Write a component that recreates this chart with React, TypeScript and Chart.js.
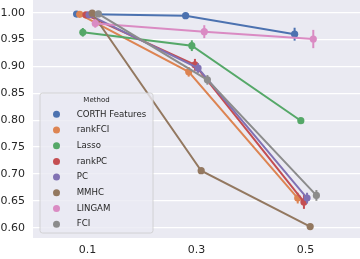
import React, { useEffect, useRef } from "react";
import { Chart, registerables } from "chart.js";

Chart.register(...registerables);

// ---- data ----
const categories = ["0.1", "0.3", "0.5"];
const methods = ["CORTH Features", "rankFCI", "Lasso", "rankPC", "PC", "MMHC", "LINGAM", "FCI"];
const colors = ["#4C72B0", "#DD8452", "#55A868", "#C44E52", "#8172B3", "#937860", "#DA8BC3", "#8C8C8C"];

const corthFeatures = [0.9975, 0.9944, 0.96];
const rankFCI = [0.997, 0.89, 0.655];
const lasso = [0.9635, 0.9386, 0.799];
const rankPC = [0.996, 0.903, 0.648];
const pc = [0.996, 0.897, 0.655];
const mmhc = [0.999, 0.706, 0.602];
const lingam = [0.98, 0.9647, 0.951];
const fci = [0.9976, 0.875, 0.66];

const corthFeaturesErr = [0.002, 0.002, 0.012];
const rankFCIErr = [0.003, 0.009, 0.01];
const lassoErr = [0.008, 0.01, 0.003];
const rankPCErr = [0.003, 0.011, 0.013];
const pcErr = [0.003, 0.009, 0.01];
const mmhcErr = [0.002, 0.003, 0.003];
const lingamErr = [0.008, 0.012, 0.017];
const fciErr = [0.003, 0.009, 0.01];

const yTicks = [0.6, 0.65, 0.7, 0.75, 0.8, 0.85, 0.9, 0.95, 1.0];
const legendTitle = "Method";

const seriesValues = [corthFeatures, rankFCI, lasso, rankPC, pc, mmhc, lingam, fci];
const seriesErrors = [corthFeaturesErr, rankFCIErr, lassoErr, rankPCErr, pcErr, mmhcErr, lingamErr, fciErr];

const FONT = "'DejaVu Sans', sans-serif";
const TEXT = "#262626";
const DODGE = 0.2;

const bgPlugin = {
  id: "bgPlugin",
  beforeDraw(chart: any) {
    const { ctx, chartArea } = chart;
    ctx.save();
    ctx.fillStyle = "#EAEAF2";
    ctx.fillRect(chartArea.left, chartArea.top, chartArea.right - chartArea.left, chartArea.bottom - chartArea.top);
    ctx.restore();
  },
};

const errorBarPlugin = {
  id: "errorBarPlugin",
  afterDatasetDraw(chart: any, args: any) {
    const i = args.index;
    const meta = args.meta;
    const ys = chart.scales.y;
    const errs = seriesErrors[i];
    const vals = seriesValues[i];
    const { ctx } = chart;
    ctx.save();
    ctx.strokeStyle = colors[i];
    ctx.lineWidth = 2;
    meta.data.forEach((pt: any, j: number) => {
      const lo = ys.getPixelForValue(vals[j] - errs[j]);
      const hi = ys.getPixelForValue(vals[j] + errs[j]);
      ctx.beginPath();
      ctx.moveTo(pt.x, lo);
      ctx.lineTo(pt.x, hi);
      ctx.stroke();
    });
    ctx.restore();
  },
};

const legendPlugin = {
  id: "legendPlugin",
  afterDatasetsDraw(chart: any) {
    const { ctx, chartArea } = chart;
    const bx = chartArea.left + 7;
    const by = chartArea.top + 93;
    const bw = 113;
    const bh = 140;
    ctx.save();
    ctx.beginPath();
    ctx.roundRect(bx, by, bw, bh, 2.5);
    ctx.fillStyle = "rgba(234,234,242,0.8)";
    ctx.fill();
    ctx.strokeStyle = "#CCCCCC";
    ctx.lineWidth = 0.8;
    ctx.stroke();

    ctx.fillStyle = TEXT;
    ctx.textBaseline = "middle";
    ctx.textAlign = "center";
    ctx.font = `7px ${FONT}`;
    ctx.fillText(legendTitle, bx + bw / 2, by + 7);

    ctx.textAlign = "left";
    ctx.font = `8.6px ${FONT}`;
    methods.forEach((m, i) => {
      const y = by + 21.3 + i * 15.7;
      ctx.beginPath();
      ctx.arc(bx + 16.5, y, 3.5, 0, Math.PI * 2);
      ctx.fillStyle = colors[i];
      ctx.fill();
      ctx.fillStyle = TEXT;
      ctx.fillText(m, bx + 36.7, y);
    });
    ctx.restore();
  },
};

const zeroPad = (s: any) => {
  s.paddingTop = 0;
  s.paddingBottom = 0;
  s.paddingLeft = 0;
  s.paddingRight = 0;
};

export default function App() {
  const ref = useRef<HTMLCanvasElement>(null);

  useEffect(() => {
    const n = methods.length;
    const datasets = methods.map((m, i) => {
      const off = -DODGE / 2 + (DODGE * i) / (n - 1);
      return {
        label: m,
        data: seriesValues[i].map((v, j) => ({ x: j + off, y: v })),
        borderColor: colors[i],
        backgroundColor: colors[i],
        pointBackgroundColor: colors[i],
        pointBorderColor: colors[i],
        pointBorderWidth: 0,
        pointRadius: 3.6,
        borderWidth: 2,
        tension: 0,
        clip: false,
        order: n - 1 - i,
      };
    });

    const chart = new Chart(ref.current!, {
      type: "line",
      data: { datasets },
      options: {
        animation: false,
        responsive: false,
        devicePixelRatio: 1,
        layout: { padding: 0, autoPadding: false },
        plugins: { legend: { display: false }, tooltip: { enabled: false } },
        scales: {
          x: {
            type: "linear",
            min: -0.5,
            max: 2.5,
            grid: { display: false, drawTicks: false },
            border: { display: false },
            afterBuildTicks: (s: any) => {
              s.ticks = categories.map((_, j) => ({ value: j }));
            },
            afterFit: (s: any) => {
              s.height = 21;
              zeroPad(s);
            },
            ticks: {
              padding: 6,
              color: TEXT,
              font: { family: FONT, size: 11 },
              callback: (v: any) => categories[Math.round(Number(v))] ?? "",
            },
          },
          y: {
            type: "linear",
            min: 0.5808,
            max: 1.0236,
            grid: { color: "#FFFFFF", lineWidth: 1.2, drawTicks: false },
            border: { display: false },
            afterBuildTicks: (s: any) => {
              s.ticks = yTicks.map((v) => ({ value: v }));
            },
            afterFit: (s: any) => {
              s.width = 33;
              zeroPad(s);
            },
            ticks: {
              padding: 8,
              color: TEXT,
              font: { family: FONT, size: 11 },
              callback: (v: any) => Number(v).toFixed(2),
            },
          },
        },
      },
      plugins: [bgPlugin, errorBarPlugin, legendPlugin],
    } as any);

    return () => chart.destroy();
  }, []);

  return (
    <div style={{ position: "fixed", left: 0, top: 0, width: 360, height: 259, background: "#FFFFFF" }}>
      <canvas ref={ref} width={360} height={259} style={{ display: "block", width: 360, height: 259 }} />
    </div>
  );
}
